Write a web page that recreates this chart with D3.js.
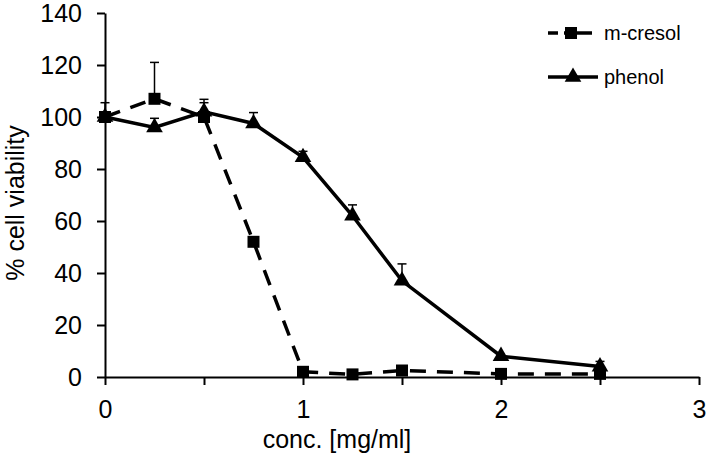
<!DOCTYPE html>
<html>
<head>
<meta charset="utf-8">
<script src="https://cdn.jsdelivr.net/npm/d3@7"></script>
<style>
  body { margin: 0; background: #fff; }
  svg { display: block; font-family: "Liberation Sans", Arial, sans-serif; }
</style>
</head>
<body>
<svg id="chart" width="708" height="462"></svg>
<script>
// data
const conc = [0, 0.25, 0.5, 0.75, 1, 1.25, 1.5, 2, 2.5];
const cresol = [100, 107, 100, 52, 2, 1, 2.5, 1.2, 1.2];
const cresolErr = [5.5, 14, 5.5, 1.5, 0, 0, 0, 0, 0];
const phenol = [100, 96, 102, 97.5, 84.5, 62, 37, 8, 4];
const phenolErr = [0, 3.5, 4.8, 4.2, 2.3, 4.2, 6.5, 0, 2];
const xTicks = [0, 0.5, 1, 1.5, 2, 2.5, 3];
const yTicks = [0, 20, 40, 60, 80, 100, 120, 140];

const svg = d3.select("#chart");
const x = d3.scaleLinear().domain([0, 3]).range([105, 699]);
const y = d3.scaleLinear().domain([0, 140]).range([377, 13]);

// axes
const xAxis = svg.append("g")
    .attr("transform", `translate(0,${y(0)})`)
    .call(d3.axisBottom(x).tickValues(xTicks).tickSize(8).tickSizeOuter(0).tickPadding(15)
        .tickFormat(d => Number.isInteger(d) ? d : ""));
const yAxis = svg.append("g")
    .attr("transform", `translate(${x(0)},0)`)
    .call(d3.axisLeft(y).tickValues(yTicks).tickSize(8).tickSizeOuter(0).tickPadding(15));

[xAxis, yAxis].forEach(g => {
    g.select(".domain").attr("stroke", "#000").attr("stroke-width", 2);
    g.selectAll(".tick line").attr("stroke", "#000").attr("stroke-width", 2);
    g.selectAll(".tick text").attr("font-size", 25).attr("font-family", "Liberation Sans, Arial, sans-serif").attr("fill", "#000");
});

svg.append("text")
    .attr("x", 337).attr("y", 448)
    .attr("text-anchor", "middle")
    .attr("font-size", 25)
    .text("conc. [mg/ml]");

svg.append("text")
    .attr("transform", "translate(24,203) rotate(-90)")
    .attr("text-anchor", "middle")
    .attr("font-size", 25)
    .text("% cell viability");

const line = d3.line().x(d => x(d[0])).y(d => y(d[1]));
const cresolPts = conc.map((c, i) => [c, cresol[i], cresolErr[i]]);
const phenolPts = conc.map((c, i) => [c, phenol[i], phenolErr[i]]);

svg.append("path").datum(cresolPts)
    .attr("d", line).attr("fill", "none").attr("stroke", "#000")
    .attr("stroke-width", 3.5).attr("stroke-dasharray", "16,11");
svg.append("path").datum(phenolPts)
    .attr("d", line).attr("fill", "none").attr("stroke", "#000")
    .attr("stroke-width", 3.5);

// error bars (upper only)
function errorBars(pts) {
    const g = svg.append("g").attr("stroke", "#000").attr("stroke-width", 1.5);
    pts.filter(d => d[2] > 0).forEach(d => {
        g.append("line").attr("x1", x(d[0])).attr("x2", x(d[0]))
            .attr("y1", y(d[1])).attr("y2", y(d[1] + d[2]));
        g.append("line").attr("x1", x(d[0]) - 4.5).attr("x2", x(d[0]) + 4.5)
            .attr("y1", y(d[1] + d[2])).attr("y2", y(d[1] + d[2]));
    });
}
errorBars(cresolPts);
errorBars(phenolPts);

const square = d3.symbol(d3.symbolSquare).size(144);
const tri = d3.symbol(d3.symbolTriangle).size(120);

svg.selectAll(".sq").data(cresolPts).enter().append("path")
    .attr("class", "sq").attr("d", square)
    .attr("transform", d => `translate(${x(d[0])},${y(d[1])})`);
svg.selectAll(".tri").data(phenolPts).enter().append("path")
    .attr("class", "tri").attr("d", tri)
    .attr("transform", d => `translate(${x(d[0])},${y(d[1])})`);

// legend
const legend = svg.append("g").attr("font-size", 20);
legend.append("line").attr("x1", 548).attr("x2", 592).attr("y1", 33).attr("y2", 33)
    .attr("stroke", "#000").attr("stroke-width", 3.5).attr("stroke-dasharray", "10,6,40");
legend.append("path").attr("d", square).attr("transform", "translate(571,33)");
legend.append("text").attr("x", 604).attr("y", 40).text("m-cresol");
legend.append("line").attr("x1", 548).attr("x2", 598).attr("y1", 77).attr("y2", 77)
    .attr("stroke", "#000").attr("stroke-width", 3.5);
legend.append("path").attr("d", tri).attr("transform", "translate(573,77)");
legend.append("text").attr("x", 604).attr("y", 84).text("phenol");
</script>
</body>
</html>
